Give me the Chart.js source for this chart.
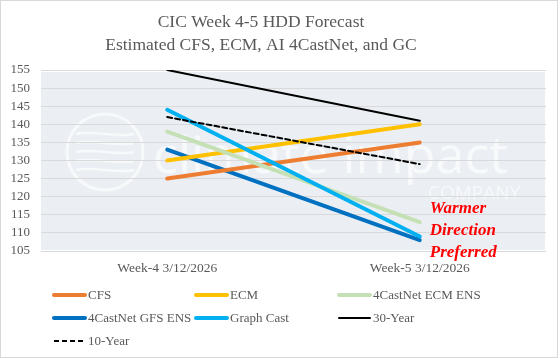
<!DOCTYPE html>
<html><head><meta charset="utf-8">
<script src="https://cdn.jsdelivr.net/npm/chart.js@4/dist/chart.umd.min.js"></script>
<style>html,body{margin:0;padding:0;background:#fff}#wrap{width:560px;height:358px;position:relative}</style>
</head><body><div id="wrap"><canvas id="c" width="560" height="358"></canvas></div>
<script>
const categories = ["Week-4 3/12/2026", "Week-5 3/12/2026"];
const seriesNames = ["CFS", "ECM", "4CastNet ECM ENS", "4CastNet GFS ENS", "Graph Cast", "30-Year", "10-Year"];
const cfs = [125, 135];
const ecm = [130, 140];
const ecmEns = [138, 113];
const gfsEns = [133, 108];
const graphCast = [144, 109];
const year30 = [155, 141];
const year10 = [142, 129];
const yTicks = [105, 110, 115, 120, 125, 130, 135, 140, 145, 150, 155];
const titleLines = ["CIC Week 4-5 HDD Forecast", "Estimated CFS, ECM, AI 4CastNet, and GC"];
const noteLines = ["Warmer", "Direction", "Preferred"];

const colors = ["#ED7D31", "#FFC000", "#C5E0B4", "#0070C0", "#00B0F0", "#000000", "#000000"];
const widths = [4, 4, 4, 4, 4, 2, 2];
const values = [cfs, ecm, ecmEns, gfsEns, graphCast, year30, year10];
const datasets = seriesNames.map((n, i) => ({
  label: n, data: values[i], borderColor: colors[i], backgroundColor: colors[i],
  borderWidth: widths[i], borderDash: i === 6 ? [5, 3] : [], pointRadius: 0,
  fill: false, tension: 0, borderCapStyle: 'round',
  order: [3, 4, 2, 5, 1, 0, 0][i]
}));

const serif = '"Liberation Serif", "Times New Roman", serif';

const bgPlugin = {
  id: 'bg',
  beforeDraw(chart) {
    const ctx = chart.ctx, a = chart.chartArea;
    ctx.save();
    ctx.fillStyle = '#fff'; ctx.fillRect(0, 0, chart.width, chart.height);
    ctx.fillStyle = '#EBEFF4';
    ctx.fillRect(a.left, a.top + 2, a.right - a.left - 1, a.bottom - a.top - 3);
    ctx.globalAlpha = 0.6;
    ctx.strokeStyle = '#fff'; ctx.fillStyle = '#fff';
    ctx.lineWidth = 3;
    ctx.beginPath(); ctx.arc(105, 152, 38, 0, Math.PI * 2); ctx.stroke();
    ctx.lineWidth = 2.5;
    for (let k = 0; k < 5; k++) {
      const yy = 134 + k * 9;
      ctx.beginPath(); ctx.moveTo(76, yy); ctx.bezierCurveTo(92, yy - 4, 118, yy + 4, 134, yy); ctx.stroke();
    }
    ctx.font = '52px "Open Sans", sans-serif';
    ctx.textBaseline = 'alphabetic'; ctx.textAlign = 'left';
    ctx.fillText('climate impact', 153, 173);
    ctx.font = '19px "Open Sans", sans-serif';
    ctx.fillText('COMPANY', 428, 199);
    ctx.restore();
  },
  afterDraw(chart) {
    const ctx = chart.ctx;
    ctx.save();
    ctx.strokeStyle = '#D9D9D9'; ctx.lineWidth = 1;
    ctx.strokeRect(0.5, 0.5, chart.width - 3, chart.height - 1);
    ctx.fillStyle = '#595959'; ctx.textAlign = 'center'; ctx.textBaseline = 'middle';
    ctx.font = '17.5px ' + serif;
    ctx.fillText(titleLines[0], 261, 22);
    ctx.fillText(titleLines[1], 261, 45);
    const xs = chart.scales.x, ys = chart.scales.y;
    ctx.fillStyle = '#FF0000'; ctx.textAlign = 'left';
    ctx.font = 'bold italic 17px ' + serif;
    const nx = xs.getPixelForValue(1) + 10;
    noteLines.forEach((t, i) => ctx.fillText(t, nx, ys.getPixelForValue(115) - 6 + i * 22));
    const colX = [52, 194, 337];
    const rowY = [295, 318, 341];
    ctx.font = '13px ' + serif;
    chart.data.datasets.forEach((d, i) => {
      const cx = colX[i % 3], cy = rowY[Math.floor(i / 3)];
      ctx.save();
      ctx.strokeStyle = d.borderColor; ctx.lineWidth = d.borderWidth;
      ctx.setLineDash(d.borderDash || []);
      ctx.lineCap = d.borderDash && d.borderDash.length ? 'butt' : 'round';
      ctx.beginPath(); ctx.moveTo(cx + 2, cy); ctx.lineTo(cx + 33, cy); ctx.stroke();
      ctx.restore();
      ctx.fillStyle = '#595959'; ctx.textAlign = 'left'; ctx.textBaseline = 'middle';
      ctx.fillText(d.label, cx + 36, cy + 1);
    });
    ctx.restore();
  }
};

new Chart(document.getElementById('c'), {
  type: 'line',
  data: { labels: categories, datasets },
  options: {
    responsive: false, animation: false,
    layout: { padding: { top: 70, right: 14, bottom: 82, left: 0 } },
    plugins: { legend: { display: false }, title: { display: false }, tooltip: { enabled: false } },
    scales: {
      x: {
        offset: true,
        grid: { display: false, drawTicks: false },
        border: { display: false },
        ticks: { color: '#595959', font: { family: serif, size: 13.5 }, padding: 9, maxRotation: 0 },
        afterFit(s) { s.height = 25; }
      },
      y: {
        min: 105, max: 155,
        afterBuildTicks(s) { s.ticks = yTicks.map(v => ({ value: v })); },
        grid: { color: '#D9D9D9', lineWidth: 1, drawTicks: false },
        border: { display: false },
        ticks: { color: '#595959', font: { family: serif, size: 13 }, padding: 11, autoSkip: false },
        afterFit(s) { s.width = 41; }
      }
    }
  },
  plugins: [bgPlugin]
});
</script></body></html>
